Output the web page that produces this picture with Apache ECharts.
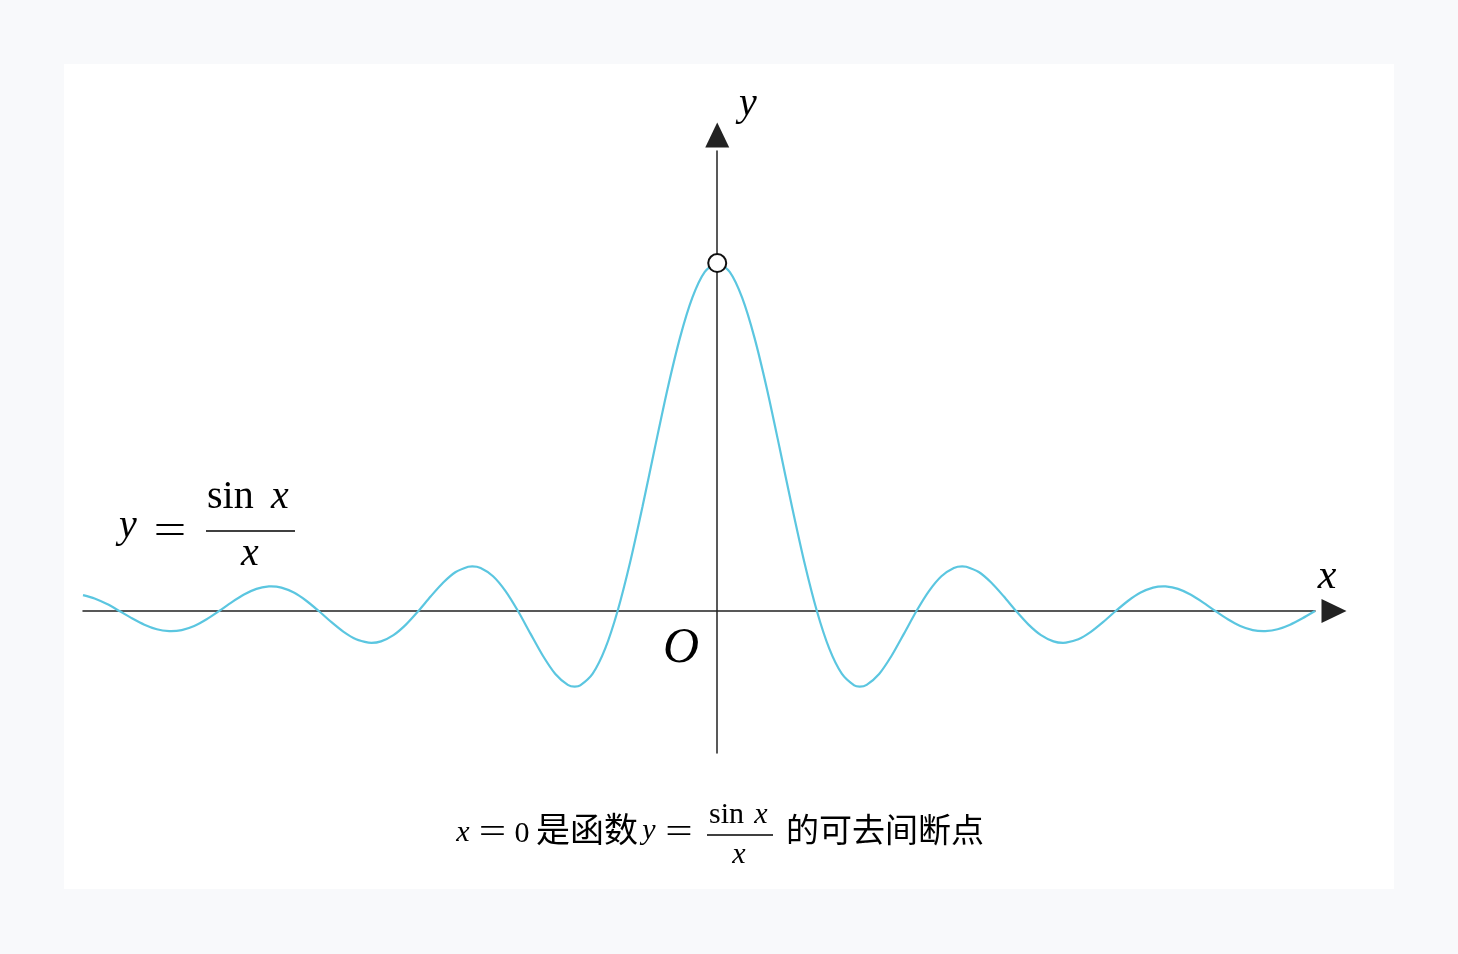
<!DOCTYPE html>
<html>
<head>
<meta charset="utf-8">
<script src="https://cdn.jsdelivr.net/npm/echarts@6/dist/echarts.min.js"></script>
<style>
html,body{margin:0;padding:0;width:1458px;height:954px;background:#f8f9fb;overflow:hidden;}
#panel{position:absolute;left:64px;top:64px;width:1330px;height:825px;background:#ffffff;}
#chart{position:absolute;left:0;top:0;width:1458px;height:954px;}
</style>
</head>
<body>
<div id="panel"></div>
<div id="chart"></div>
<script>
const curveX = [
  -20, -19.635, -19.242, -18.850, -18.457, -18.064, -17.671, -17.279, -17.221, -16.886, -16.493,
  -16.101, -15.708, -15.315, -14.923, -14.530, -14.137, -14.066, -13.744, -13.352, -12.959, -12.566,
  -12.174, -11.781, -11.388, -10.996, -10.904, -10.603, -10.210, -9.817, -9.425, -9.032, -8.639,
  -8.247, -7.854, -7.725, -7.461, -7.069, -6.676, -6.283, -5.890, -5.498, -5.105, -4.712, -4.493,
  -4.320, -3.927, -3.534, -3.142, -2.749, -2.356, -1.963, -1.571, -1.178, -0.785, -0.393, 0,
  0.393, 0.785, 1.178, 1.571, 1.963, 2.356, 2.749, 3.142, 3.534, 3.927,
  4.320, 4.493, 4.712, 5.105, 5.498, 5.890, 6.283, 6.676, 7.069, 7.461, 7.725, 7.854,
  8.247, 8.639, 9.032, 9.425, 9.817, 10.210, 10.603, 10.904, 10.996, 11.388, 11.781,
  12.174, 12.566, 12.959, 13.352, 13.744, 14.066, 14.137, 14.530, 14.923, 15.315, 15.708,
  16.101, 16.493, 16.886, 17.221, 17.279, 17.671, 18.064, 18.457, 18.850
];
const curveY = [
  0.04565, 0.03601, 0.01989, 0, -0.02073, -0.03914, -0.05228, -0.05787, -0.05797, -0.05471, -0.04287,
  -0.02377, 0, 0.02499, 0.04739, 0.06358, 0.07074, 0.07091, 0.06722, 0.05296, 0.02953, 0,
  -0.03144, -0.06002, -0.08113, -0.09095, -0.09133, -0.08713, -0.06926, -0.03898, 0, 0.04237, 0.08185,
  0.11203, 0.12732, 0.12837, 0.12382, 0.10004, 0.05732, 0, -0.06497, -0.12862, -0.18097, -0.21221, -0.21723,
  -0.21388, -0.18006, -0.10828, 0, 0.13921, 0.30011, 0.47053, 0.63662, 0.78421, 0.90032, 0.97450, 1,
  0.97450, 0.90032, 0.78421, 0.63662, 0.47053, 0.30011, 0.13921, 0, -0.10828, -0.18006,
  -0.21388, -0.21723, -0.21221, -0.18097, -0.12862, -0.06497, 0, 0.05732, 0.10004, 0.12382, 0.12837, 0.12732,
  0.11203, 0.08185, 0.04237, 0, -0.03898, -0.06926, -0.08713, -0.09133, -0.09095, -0.08113, -0.06002,
  -0.03144, 0, 0.02953, 0.05296, 0.06722, 0.07091, 0.07074, 0.06358, 0.04739, 0.02499, 0,
  -0.02377, -0.04287, -0.05471, -0.05797, -0.05787, -0.05228, -0.03914, -0.02073, 0
];
// Removable discontinuity (hole)
const holeX = [0];
const holeY = [1];
// Axis ranges
const xRange = [-20, 18.85];
const yRange = [-0.408, 1.322];

const curveData = curveX.map((x, i) => [x, curveY[i]]);
const holeData = holeX.map((x, i) => [x, holeY[i]]);

const MATH = '"Liberation Serif", "DejaVu Serif", serif';
const CJK = '"Noto Sans CJK SC", sans-serif';

function t(text, x, y, size, italic, align, family, sx, sy) {
  return {
    type: 'text', x: x, y: y, silent: true,
    scaleX: sx || 1, scaleY: sy || 1,
    style: {
      text: text, fill: '#000',
      font: (italic ? 'italic ' : '') + size + 'px ' + (family || MATH),
      textAlign: align || 'center', textVerticalAlign: 'middle'
    }
  };
}
function eq(x, y, size) { return t('=', x, y, size, false, 'center', MATH, 1.62, 1.2); }
function bar(x1, x2, y, w) {
  return { type: 'line', silent: true, shape: { x1: x1, y1: y, x2: x2, y2: y }, style: { stroke: '#000', lineWidth: w } };
}

const chart = echarts.init(document.getElementById('chart'), null, { renderer: 'canvas' });
chart.setOption({
  backgroundColor: 'transparent',
  animation: false,
  grid: { left: 83, right: 143, top: 151, bottom: 201, containLabel: false },
  xAxis: {
    type: 'value', min: xRange[0], max: xRange[1],
    axisLine: { show: true, onZero: true, symbol: ['none', 'triangle'], symbolSize: [24, 25], symbolOffset: [0, 19],
      lineStyle: { color: '#222', width: 1.5 } },
    axisTick: { show: false }, axisLabel: { show: false }, splitLine: { show: false }
  },
  yAxis: {
    type: 'value', min: yRange[0], max: yRange[1],
    axisLine: { show: true, onZero: true, symbol: ['none', 'triangle'], symbolSize: [24, 25], symbolOffset: [0, 16],
      lineStyle: { color: '#222', width: 1.5 } },
    axisTick: { show: false }, axisLabel: { show: false }, splitLine: { show: false }
  },
  series: [
    {
      type: 'line', data: curveData, smooth: 0.25, showSymbol: false, symbol: 'none',
      lineStyle: { color: '#5bc6e0', width: 2.2 }, z: 2
    },
    {
      type: 'scatter', data: holeData, symbol: 'circle', symbolSize: 18,
      itemStyle: { color: '#ffffff', borderColor: '#111', borderWidth: 2, opacity: 1 }, z: 5
    }
  ],
  graphic: [
    // axis names and origin
    t('y', 748, 104, 40, true),
    t('x', 1327, 577, 42, true),
    t('O', 681, 649, 50, true),
    // formula y = sin x / x
    t('y', 128, 526, 40, true),
    eq(170, 532, 36),
    t('sin', 207, 497, 40, false, 'left'),
    t('x', 280, 497, 40, true),
    bar(206, 295, 531, 1.6),
    t('x', 250, 554, 40, true),
    // caption
    t('x', 463, 833, 30, true),
    eq(492.5, 834, 30),
    t('0', 522, 834, 30, false),
    t('是函数', 536, 829, 34, false, 'left', CJK),
    t('y', 649, 831, 30, true),
    eq(679, 834, 30),
    t('sin', 709, 815, 30, false, 'left'),
    t('x', 761, 815, 30, true),
    bar(707, 773, 835, 1.3),
    t('x', 739, 855, 30, true),
    t('的可去间断点', 786, 829, 33, false, 'left', CJK)
  ]
});
</script>
</body>
</html>
